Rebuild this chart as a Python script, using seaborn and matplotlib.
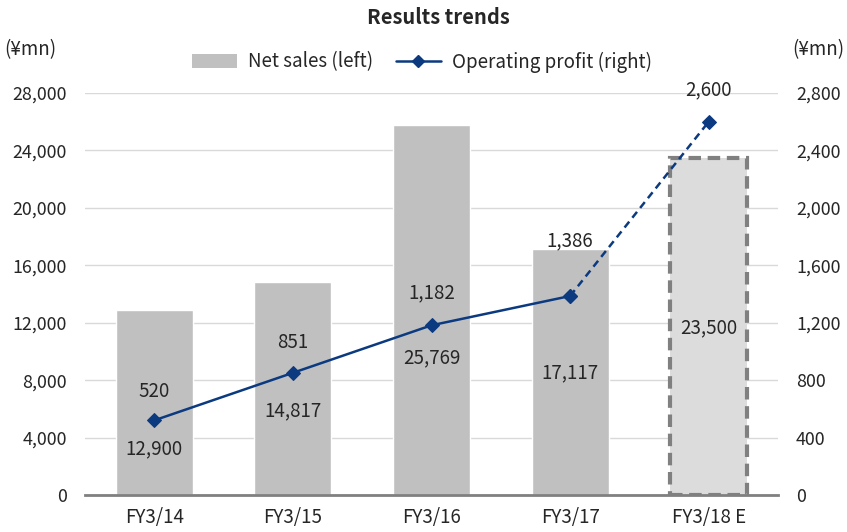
import matplotlib
matplotlib.use("Agg")
import matplotlib.pyplot as plt
import seaborn as sns
import numpy as np
from matplotlib.lines import Line2D
from matplotlib.patches import Patch

categories = ["FY3/14", "FY3/15", "FY3/16", "FY3/17", "FY3/18 E"]
net_sales = [12900, 14817, 25769, 17117, 23500]
op_profit = [520, 851, 1182, 1386, 2600]
sales_labels = ["12,900", "14,817", "25,769", "17,117", "23,500"]
profit_labels = ["520", "851", "1,182", "1,386", "2,600"]
sales_label_y = [3200, 5850, 9540, 8500, 11630]
profit_label_y = [724, 1059, 1407, 1769, 2821]
left_ticks = [0, 4000, 8000, 12000, 16000, 20000, 24000, 28000]
right_ticks = [0, 400, 800, 1200, 1600, 2000, 2400, 2800]

sns.set_style("white")
plt.rcParams['font.family'] = ['Noto Sans CJK JP', 'DejaVu Sans']

FS = 13.5
TFS = 12.8
BAR = "#c0c0c0"
LINE = "#0b3a80"
fig = plt.figure(figsize=(8.47, 5.32), dpi=100)
ax = fig.add_axes([85/847, 1-495/532, (778-85)/847, (495-93)/532])
x = np.arange(len(categories))
sns.barplot(x=x, y=net_sales, ax=ax, color=BAR, width=0.555, saturation=1)
bars = ax.patches
bars[4].set_facecolor("#dcdcdc")
bars[4].set_edgecolor("#808080")
bars[4].set_linewidth(3)
bars[4].set_linestyle((0, (3, 1.6)))

ax.set_ylim(0, 28000)
ax.set_xlim(-0.5, 4.5)
ax.set_yticks(left_ticks)
ax.set_yticklabels([f"{v:,}" for v in left_ticks], fontsize=TFS)
ax.set_xticks(x)
ax.set_xticklabels(categories, fontsize=FS)
ax.set_xticks(np.arange(-0.5, 5, 1), minor=True)
ax.tick_params(axis='x', which='major', length=0, pad=9)
ax.tick_params(axis='x', which='minor', length=6, width=2, color="#808080", direction='out')
ax.tick_params(axis='y', length=0, pad=13)
ax.yaxis.grid(True, color="#d9d9d9", lw=1)
ax.set_axisbelow(True)
for s in ["top", "right", "left"]:
    ax.spines[s].set_visible(False)
ax.spines["bottom"].set_color("#808080")
ax.spines["bottom"].set_linewidth(2)
ax.set_xlabel("")
ax.set_ylabel("")

ax2 = ax.twinx()
sns.lineplot(x=x[:4], y=op_profit[:4], ax=ax2, color=LINE, lw=1.8, marker="D", markersize=7.5,
             markeredgecolor=LINE)
sns.lineplot(x=x[3:], y=op_profit[3:], ax=ax2, color=LINE, lw=1.8, linestyle=(0, (3, 2)),
             marker="D", markersize=7.5, markeredgecolor=LINE)
ax2.set_ylim(0, 2800)
ax2.set_yticks(right_ticks)
ax2.set_yticklabels([f"{v:,}" for v in right_ticks], fontsize=TFS)
ax2.tick_params(axis='y', length=0, pad=13)
for s in ["top", "right", "left", "bottom"]:
    ax2.spines[s].set_visible(False)
ax2.set_xlim(-0.5, 4.5)

for i in range(5):
    ax.text(x[i], sales_label_y[i], sales_labels[i], ha='center', va='center', fontsize=FS)
    ax2.text(x[i], profit_label_y[i], profit_labels[i], ha='center', va='center', fontsize=FS)

fig.text(438/847, 1-17/532, "Results trends", ha='center', va='center', fontsize=14.5, fontweight='bold')
fig.text(30/847, 1-50/532, "(¥mn)", ha='center', va='center', fontsize=FS)
fig.text(818/847, 1-50/532, "(¥mn)", ha='center', va='center', fontsize=FS)

handles = [Patch(facecolor=BAR, edgecolor='none'),
           Line2D([0], [0], color=LINE, lw=1.8, marker="D", markersize=6)]
fig.legend(handles, ["Net sales (left)", "Operating profit (right)"], loc='center',
           bbox_to_anchor=(422/847, 1-62/532), ncol=2, frameon=False, fontsize=FS,
           handlelength=2.4, handletextpad=0.6, columnspacing=1.2)

fig.savefig("out.png", dpi=100)
